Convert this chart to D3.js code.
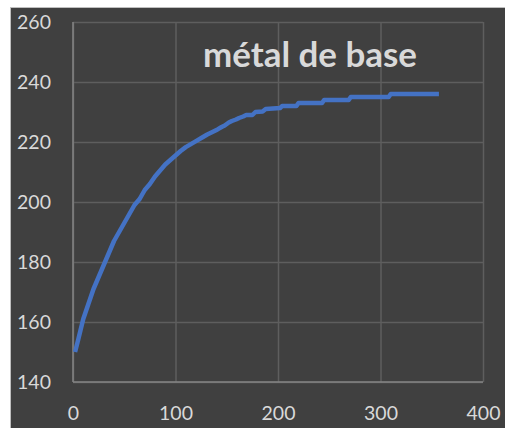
<!DOCTYPE html>
<html>
<head>
<meta charset="utf-8">
<script src="https://cdn.jsdelivr.net/npm/d3@7"></script>
<style>
  html, body { margin: 0; padding: 0; background: #ffffff; }
  svg { display: block; }
</style>
</head>
<body>
<svg id="chart" width="505" height="428"></svg>
<script>
// Hardness profile of the base metal: depth (x) vs hardness (y)
const depth = [2, 5, 10, 15, 20, 25, 30, 35, 40, 45, 50, 55, 60, 65, 70, 75, 80, 85, 90, 95, 100,
  105, 110, 115, 120, 126, 131, 137, 141, 145, 148, 152, 155, 159, 162, 166, 169, 175, 178, 185, 188,
  202, 204, 218, 220, 243, 245, 269, 271, 308, 310, 357];
const hardness = [150, 154, 161, 166, 171, 175, 179, 183, 187, 190, 193, 196, 199, 201, 204, 206, 208.5, 210.5, 212.5, 214, 215.5,
  217, 218.3, 219.3, 220.3, 221.5, 222.5, 223.5, 224.2, 225, 225.5, 226.5, 227, 227.5, 228, 228.5, 229, 229, 230, 230.2, 231,
  231.3, 232, 232, 233, 233, 234, 234, 235, 235, 236, 236];
const xTicks = [0, 100, 200, 300, 400];
const yTicks = [140, 160, 180, 200, 220, 240, 260];
const title = "métal de base";

const svg = d3.select("#chart");
const W = 505, H = 428;
const plot = { left: 73, right: 483, top: 22, bottom: 382 };

// chart frame
svg.append("rect")
  .attr("x", 10.5).attr("y", 7.5)
  .attr("width", W - 10).attr("height", H - 7)
  .attr("fill", "#404040")
  .attr("stroke", "#bfbfbf").attr("stroke-width", 1);

const x = d3.scaleLinear().domain([0, 400]).range([plot.left, plot.right]);
const y = d3.scaleLinear().domain([140, 260]).range([plot.bottom, plot.top]);

const font = "Lato, 'Open Sans', sans-serif";
const textColor = "#d9d9d9";

// gridlines
svg.append("g")
  .attr("transform", `translate(0,${plot.bottom})`)
  .call(d3.axisBottom(x).tickValues(xTicks).tickSize(-(plot.bottom - plot.top)).tickFormat(""))
  .call(g => g.select(".domain").remove())
  .call(g => g.selectAll("line").attr("stroke", "#5e5e5e").attr("stroke-width", 1.5));
svg.append("g")
  .attr("transform", `translate(${plot.left},0)`)
  .call(d3.axisLeft(y).tickValues(yTicks).tickSize(-(plot.right - plot.left)).tickFormat(""))
  .call(g => g.select(".domain").remove())
  .call(g => g.selectAll("line").attr("stroke", "#5e5e5e").attr("stroke-width", 1.5));

// axis lines
svg.append("line")
  .attr("x1", plot.left).attr("x2", plot.left)
  .attr("y1", plot.top).attr("y2", plot.bottom)
  .attr("stroke", "#858585").attr("stroke-width", 1.5);
svg.append("line")
  .attr("x1", plot.left).attr("x2", plot.right)
  .attr("y1", plot.bottom).attr("y2", plot.bottom)
  .attr("stroke", "#858585").attr("stroke-width", 1.5);

// tick labels
const yAxis = svg.append("g")
  .attr("transform", `translate(${plot.left},0)`)
  .call(d3.axisLeft(y).tickValues(yTicks).tickSize(0).tickPadding(22));
yAxis.select(".domain").remove();
yAxis.selectAll("text")
  .attr("fill", textColor).style("font-family", font).style("font-size", "19.5px");

const xAxis = svg.append("g")
  .attr("transform", `translate(0,${plot.bottom})`)
  .call(d3.axisBottom(x).tickValues(xTicks).tickSize(0).tickPadding(24));
xAxis.select(".domain").remove();
xAxis.selectAll("text")
  .attr("fill", textColor).style("font-family", font).style("font-size", "19.5px");

// data line
const line = d3.line()
  .x((d, i) => x(depth[i]))
  .y((d, i) => y(hardness[i]));
svg.append("path")
  .datum(hardness)
  .attr("d", line)
  .attr("fill", "none")
  .attr("stroke", "#4472c4")
  .attr("stroke-width", 4.5)
  .attr("stroke-linejoin", "round")
  .attr("stroke-linecap", "butt");

// title
const t = svg.append("text")
  .attr("x", 310).attr("y", 67)
  .attr("text-anchor", "middle")
  .attr("fill", textColor)
  .style("font-family", font)
  .style("font-weight", "bold")
  .style("font-size", "24px")
  .text(title);
const tw = t.node().getComputedTextLength();
if (tw > 0) t.style("font-size", (24 * 214 / tw).toFixed(2) + "px");
</script>
</body>
</html>
